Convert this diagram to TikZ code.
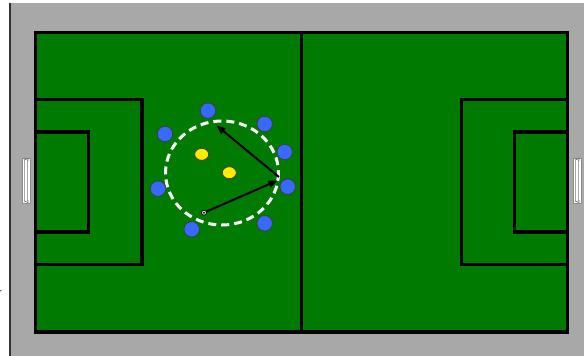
\documentclass[tikz,border=0pt]{standalone}
\usetikzlibrary{arrows.meta,shapes.geometric}
\definecolor{pitch}{RGB}{0,122,0}
\definecolor{surround}{RGB}{168,168,168}
\definecolor{playerblue}{RGB}{55,105,250}
\definecolor{playeryellow}{RGB}{255,236,0}
\definecolor{edgeline}{RGB}{50,50,50}
\tikzset{
  fieldline/.style={draw=black, line width=3.2pt},
  blueplayer/.style={circle, draw=black!75, line width=0.8pt, fill=playerblue, minimum size=15.5pt, inner sep=0pt},
  yellowplayer/.style={ellipse, draw=black!75, line width=0.8pt, fill=playeryellow, minimum width=14pt, minimum height=12pt, inner sep=0pt},
  passarrow/.style={draw=black, line width=2pt, -{Triangle[length=9pt,width=7pt]}},
  goalframe/.style={draw=black!45, fill=white, line width=0.8pt},
}
\begin{document}
\begin{tikzpicture}[x=1pt,y=-1pt]
\useasboundingbox (0,0) rectangle (584,356);
% background
\fill[white] (0,0) rectangle (584,356);
\fill[surround] (10.5,3) rectangle (584,356);
\draw[edgeline, line width=1.4pt] (10,3) -- (10,356);
\node[anchor=base west, inner sep=0pt, font=\sffamily\fontsize{13}{15}\selectfont, text=black] (frag) at (-2.8,296.5) {r};
% pitch
\fill[pitch] (35.5,32.5) rectangle (567.5,332);
\draw[fieldline] (35.5,32.5) rectangle (567.5,332);
\draw[fieldline] (301.5,32.5) -- (301.5,332);
% left boxes
\draw[fieldline] (35.5,99.5) -- (142,99.5) -- (142,264.5) -- (35.5,264.5);
\draw[fieldline] (35.5,132) -- (88.5,132) -- (88.5,232) -- (35.5,232);
% right boxes
\draw[fieldline] (567.5,99.5) -- (461.5,99.5) -- (461.5,264.5) -- (567.5,264.5);
\draw[fieldline] (567.5,132) -- (514.5,132) -- (514.5,232) -- (567.5,232);
% goals
\foreach \gx/\nm in {22/lg,573/rg}{
  \draw[goalframe] (\gx,158) rectangle ++(8,45);
  \draw[black!35, line width=0.6pt] (\gx+2.5,160) -- (\gx+2.5,201);
  \draw[black!35, line width=0.6pt] (\gx+5.5,160) -- (\gx+5.5,201);
  \draw[black!60, line width=0.6pt] (\gx+2,160) -- (\gx+6,158.5) -- (\gx+6,161);
  \draw[black!60, line width=0.6pt] (\gx+2,201) -- (\gx+6,202.5) -- (\gx+6,200);
}
% dashed circle
\draw[white, line width=3pt, dash pattern=on 8pt off 5pt] (222,173) ellipse [x radius=56.5, y radius=52];
% players
\node[blueplayer] (p1) at (208,110.7) {};
\node[blueplayer] (p2) at (165,134) {};
\node[blueplayer] (p3) at (264.7,124) {};
\node[blueplayer] (p4) at (284.7,152) {};
\node[blueplayer] (p5) at (287.7,186.7) {};
\node[blueplayer] (p6) at (158,188.7) {};
\node[blueplayer] (p7) at (191.7,229.3) {};
\node[blueplayer] (p8) at (264.7,223.3) {};
\node[yellowplayer] (y1) at (201.7,154.3) {};
\node[yellowplayer] (y2) at (229.3,172.7) {};
% ball
\node[circle, draw=black, fill=white, line width=0.8pt, minimum size=5pt, inner sep=0pt] (ball) at (204,212.7) {};
\fill[black] (ball.center) circle (1.2pt);
% arrows
\coordinate (a1end) at (277.5,180.5);
\coordinate (a2start) at (279,177);
\coordinate (a2end) at (216.5,125.5);
\draw[passarrow] (ball) -- (a1end);
\draw[passarrow] (a2start) -- (a2end);
\end{tikzpicture}
\end{document}
